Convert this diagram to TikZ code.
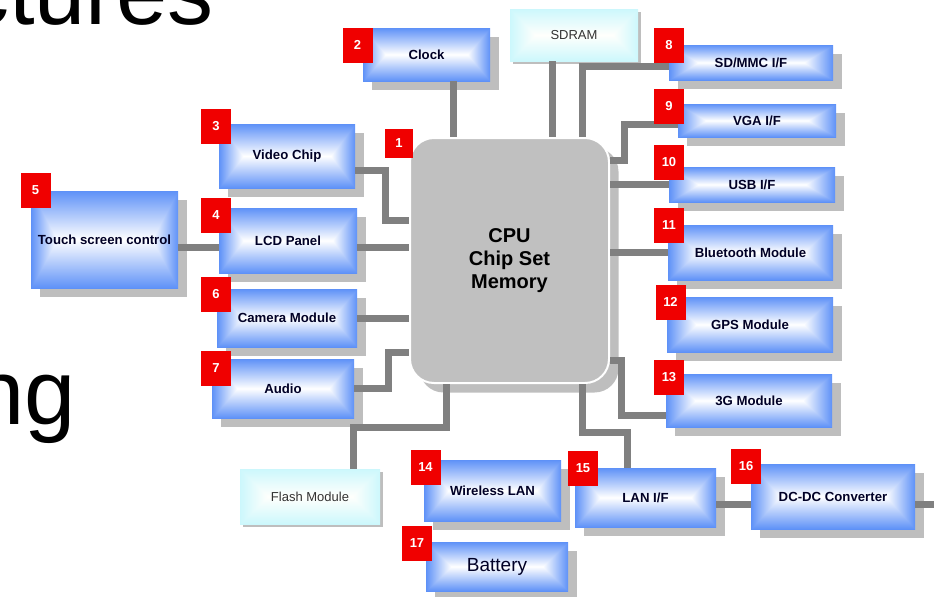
\documentclass[tikz,border=0pt]{standalone}
\usepackage{fontspec}
\setmainfont{Liberation Sans}
\usepackage{tikz}
\usetikzlibrary{calc, positioning, shadows}

\definecolor{wiregray}{RGB}{128,128,128}
\definecolor{shadowgray}{RGB}{190,190,190}
\definecolor{chipgray}{RGB}{192,192,192}
\definecolor{tagred}{RGB}{240,0,0}

% box gradient: white along the middle, blue towards every edge
\pgfdeclarefunctionalshading{modglow}{\pgfpoint{-50bp}{-50bp}}{\pgfpoint{50bp}{50bp}}{}{
  25 div abs 1 exch sub
  exch 25 div abs 1 exch sub 2.8 mul
  2 copy gt {exch} if pop
  dup 0 lt {pop 0} if dup 1 gt {pop 1} if
  dup 0.63 mul 0.37 add exch
  dup 0.43 mul 0.57 add exch
  0.03 mul 0.97 add
}
\pgfdeclarefunctionalshading{memglow}{\pgfpoint{-50bp}{-50bp}}{\pgfpoint{50bp}{50bp}}{}{
  25 div abs 1 exch sub
  exch 25 div abs 1 exch sub 2.5 mul
  2 copy gt {exch} if pop
  dup 0 lt {pop 0} if dup 1 gt {pop 1} if
  dup 0.2 mul 0.8 add exch
  dup 0.03 mul 0.97 add exch
  pop 0.99
}

\tikzset{
    module/.style 2 args={shade, shading=modglow, inner sep=0pt,
        minimum width=#1*0.5pt, minimum height=#2*0.5pt,
        general shadow={fill=shadowgray, shadow xshift=4.5pt, shadow yshift=-4.5pt},
        font=\fontsize{6.6}{8}\selectfont\bfseries, text=black!85!blue},
    memory/.style 2 args={shade, shading=memglow, inner sep=0pt,
        minimum width=#1*0.5pt, minimum height=#2*0.5pt,
        general shadow={fill=shadowgray, shadow xshift=1.5pt, shadow yshift=-1.5pt},
        font=\fontsize{6.5}{8}\selectfont, text=black!80},
    chip/.style={fill=chipgray, draw=white, line width=1pt, rounded corners=12pt,
        minimum width=99.5pt, minimum height=122.5pt, align=center,
        general shadow={fill=shadowgray, shadow xshift=4.75pt, shadow yshift=-4.75pt},
        font=\fontsize{10}{11.5}\selectfont\bfseries},
    tag/.style={fill=tagred, text=white, inner sep=0pt,
        minimum width=15pt, minimum height=17.5pt,
        font=\fontsize{6.5}{8}\selectfont\bfseries},
    wire/.style={draw=wiregray, line width=3.5pt}
}

\begin{document}
\begin{tikzpicture}[x=0.5pt, y=-0.5pt]
    \useasboundingbox (0,0) rectangle (934,596);
    \clip (0,0) rectangle (934,596);

    % slide text behind the diagram
    \node[anchor=base east, inner sep=0pt, font=\fontsize{46}{50}\selectfont] (headtail) at (214,24) {ctures};
    \node[anchor=base east, inner sep=0pt, font=\fontsize{46}{50}\selectfont] (linetail) at (76,424) {ng};

    % chip and modules
    \node[chip] (cpu) at (509.5,260.5) {CPU\\Chip Set\\Memory};
    \node[module={127}{53}] (clock) at (426.5,54.5) {Clock};
    \node[memory={128}{52}] (sdram) at (574,35) {SDRAM};
    \node[module={164}{35}] (sdmmc) at (751,62.5) {SD/MMC I/F};
    \node[module={158}{33}] (vga) at (757,120.5) {VGA I/F};
    \node[module={166}{35}] (usb) at (752,184.5) {USB I/F};
    \node[module={165}{55}] (bt) at (750.5,252.5) {Bluetooth Module};
    \node[module={166}{55}] (gps) at (750,324.5) {GPS Module};
    \node[module={166}{53}] (g3) at (749,400.5) {3G Module};
    \node[module={141}{59}] (lan) at (645.5,497.5) {LAN I/F};
    \node[module={164}{65}] (dc) at (833,496.5) {DC-DC Converter};
    \node[module={137}{61}] (wlan) at (492.5,490.5) {Wireless LAN};
    \node[module={142}{49}, font=\fontsize{9.5}{11}\selectfont] (battery) at (497,566.5) {Battery};
    \node[memory={140}{55}] (flash) at (310,496.5) {Flash Module};
    \node[module={142}{59}] (audio) at (283,388.5) {Audio};
    \node[module={140}{58}] (camera) at (287,318) {Camera Module};
    \node[module={138}{65}] (lcd) at (288,240.5) {LCD Panel};
    \node[module={147}{97}] (touch) at (104.5,239.5) {Touch screen control};
    \node[module={136}{64}] (video) at (287,156) {Video Chip};
    \coordinate (offpage) at (934,504);

    % wires
    \draw[wire] ($(clock.south)+(13.25pt,0)$) -- ($(clock.south |- cpu.north)+(13.25pt,0)$);
    \draw[wire] ($(sdram.south)+(-11pt,0)$) -- ($(sdram.south |- cpu.north)+(-11pt,0)$);
    \draw[wire] ($(cpu.north)+(36.25pt,0)$) |- ($(sdmmc.west)+(0,-2pt)$);
    \draw[wire] ($(cpu.east)+(0,50.25pt)$) -| ($(vga.west)+(-26.5pt,-1.75pt)$) -- ($(vga.west)+(0,-1.75pt)$);
    \draw[wire] (usb.west -| cpu.east) -- (usb.west);
    \draw[wire] (bt.west -| cpu.east) -- (bt.west);
    \draw[wire] ($(cpu.east)+(0,-49.75pt)$) -| ($(g3.west)+(-22pt,-7.25pt)$) -- ($(g3.west)+(0,-7.25pt)$);
    \draw[wire] ($(lan.north)+(-9.25pt,0)$) -- ++(0,17.5pt) -| ($(cpu.south)+(36.25pt,0)$);
    \draw[wire] ($(lan.east)+(0,-3.25pt)$) -- ($(lan.east -| dc.west)+(0,-3.25pt)$);
    \draw[wire] ($(dc.east)+(0,-3.75pt)$) -- (offpage);
    \draw[wire] ($(flash.north)+(21.5pt,0)$) -- ++(0,20.5pt) -| ($(cpu.south)+(-31.75pt,0)$);
    \draw[wire] (audio.east) -- ++(17pt,0) |- ($(cpu.west)+(0,-45.75pt)$);
    \draw[wire] (camera.east) -- (camera.east -| cpu.west);
    \draw[wire] ($(lcd.east)+(0,-3.25pt)$) -- ($(lcd.east -| cpu.west)+(0,-3.25pt)$);
    \draw[wire] ($(touch.east)+(0,-4pt)$) -- ($(touch.east -| lcd.west)+(0,-4pt)$);
    \draw[wire] ($(video.east)+(0,-7pt)$) -- ++(15pt,0) |- ($(cpu.west)+(0,20.25pt)$);

    % number tags
    \node[tag, minimum width=14pt, minimum height=14.5pt] (t1) at (399,143.5) {1};
    \node[tag] (t2) at (357.5,45) {2};
    \node[tag] (t3) at (216,126) {3};
    \node[tag] (t4) at (216,215) {4};
    \node[tag] (t5) at (35.5,190.5) {5};
    \node[tag] (t6) at (216,294) {6};
    \node[tag] (t7) at (216,368) {7};
    \node[tag] (t8) at (669,45.5) {8};
    \node[tag] (t9) at (669,106) {9};
    \node[tag] (t10) at (669,162) {10};
    \node[tag] (t11) at (669,225) {11};
    \node[tag] (t12) at (670.5,302) {12};
    \node[tag] (t13) at (669,377) {13};
    \node[tag] (t14) at (425.5,467.5) {14};
    \node[tag] (t15) at (583,468) {15};
    \node[tag] (t16) at (746,466.5) {16};
    \node[tag] (t17) at (417,543.5) {17};
\end{tikzpicture}
\end{document}
